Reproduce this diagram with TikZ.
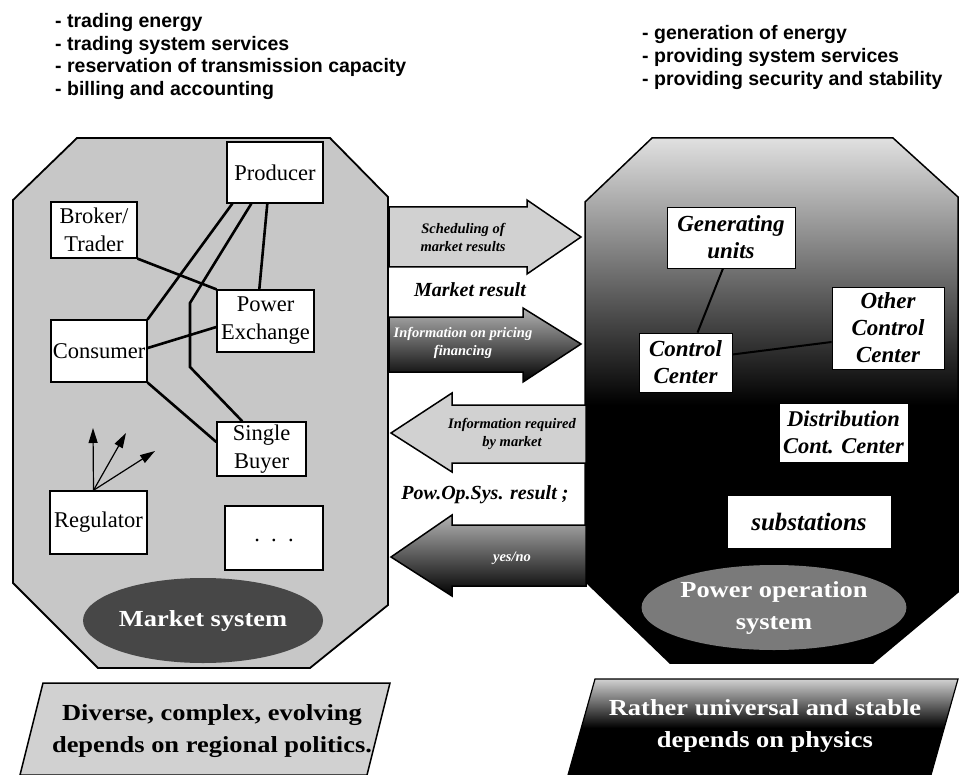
\documentclass[tikz,border=0pt]{standalone}
\usepackage{fontspec}
\setmainfont{Liberation Serif}
\newfontfamily\listfont{Liberation Sans}
\newfontfamily\widefont[FakeStretch=1.15]{Liberation Serif}
\usetikzlibrary{calc,shapes.geometric,arrows.meta}

\begin{document}
\begin{tikzpicture}[x=1pt,y=-1pt,
  listtext/.style={font=\listfont\bfseries\fontsize{19.5}{22}\selectfont,anchor=base west,inner sep=0pt},
  mbox/.style={draw=black,line width=1.4pt,fill=white,inner sep=0pt,align=center,
    font=\fontsize{22.5}{28}\selectfont},
  pbox/.style={draw=black,line width=0.8pt,fill=white,inner sep=0pt,align=center,
    font=\fontsize{23}{27}\selectfont\bfseries\itshape},
  link/.style={line width=2.6pt,line cap=round},
  reglink/.style={line width=1.2pt,-{Triangle[length=15pt,width=9pt]}},
  lbl/.style={font=\fontsize{20}{24}\selectfont\bfseries\itshape,inner sep=0pt},
  atext/.style={font=\fontsize{14.5}{18}\selectfont\bfseries\itshape,align=center,inner sep=0pt},
  bigtext/.style={font=\widefont\bfseries\fontsize{23}{32}\selectfont,align=center,inner sep=0pt},
]
\useasboundingbox (0,0) rectangle (960,775);

% ---------- task lists ----------
\node[listtext] (l1) at (55,28)   {- trading energy};
\node[listtext] (l2) at (55,50.5) {- trading system services};
\node[listtext] (l3) at (55,73)   {- reservation of transmission capacity};
\node[listtext] (l4) at (55,95.5) {- billing and accounting};

\node[listtext] (r1) at (642,40) {- generation of energy};
\node[listtext] (r2) at (642,63) {- providing system services};
\node[listtext] (r3) at (642,86) {- providing security and stability};

% ---------- market system (left octagon) ----------
\def\octL{(77,138) -- (330,138) -- (388,197) -- (388,605) -- (310,668) -- (98,668) -- (13,583) -- (13,200) -- cycle}
\fill[black!22] \octL;
\draw[line width=1.8pt] \octL;

% ---------- power operation system (right octagon) ----------
\def\octR{(652,138) -- (893,138) -- (958,197) -- (958,592) -- (873,663) -- (670,663) -- (585,581) -- (585,202) -- cycle}
\begin{scope}
  \clip \octR;
  \fill[black] (580,130) rectangle (960,670);
  \shade[top color=black!12,middle color=black!48,bottom color=black] (580,138) rectangle (960,405);
\end{scope}
\draw[line width=1.5pt] \octR;

% ---------- actors of the market ----------
\node[mbox,minimum width=96pt,minimum height=61pt] (prod) at (275,172.5) {Producer};
\node[mbox,minimum width=86pt,minimum height=56pt] (broker) at (94,230) {Broker/\\Trader};
\node[mbox,minimum width=97pt,minimum height=62pt] (pe) at (265.5,321) {Power\\Exchange};
\node[mbox,minimum width=96pt,minimum height=62pt] (cons) at (99,351) {Consumer};
\node[mbox,minimum width=89pt,minimum height=54pt] (sb) at (261.5,449) {Single\\Buyer};
\node[mbox,minimum width=97pt,minimum height=63pt] (reg) at (98.5,522.5) {Regulator};
\node[mbox,minimum width=98pt,minimum height=64pt] (more) at (274,538) {\raisebox{-7pt}{.\ \ .\ \ .}};

\node[ellipse,fill=black!72,minimum width=240pt,minimum height=85pt,inner sep=0pt,
      bigtext,text=white] (mkt) at (203,620.5) {Market system};

% relations between market actors
\draw[link] ($(prod.south west)+(6,0)$) -- (cons.north east);
\draw[link] ($(prod.south west)+(25,0)$) -- (190,303) -- (190,367) -- ($(sb.north west)+(26,0)$);
\draw[link] ($(prod.south west)+(41,0)$) -- ($(pe.north west)+(43,0)$);
\draw[link] (broker.south east) -- (pe.north west);
\draw[link] ($(cons.east)+(0,-3)$) -- ($(pe.west)+(0,6)$);
\draw[link] (cons.south east) -- ($(sb.west)+(0,-7)$);

% regulator influence
\coordinate (ra1) at (93,428);
\coordinate (ra2) at (126,433);
\coordinate (ra3) at (155,451);
\draw[reglink] ($(reg.north)+(-5,0)$) -- (ra1);
\draw[reglink] ($(reg.north)+(-5,0)$) -- (ra2);
\draw[reglink] ($(reg.north)+(-5,0)$) -- (ra3);

% ---------- operation side ----------
\node[pbox,minimum width=128pt,minimum height=61pt] (gen) at (731,237.5) {Generating\\units};
\node[pbox,minimum width=112pt,minimum height=82pt] (occ) at (888,328) {Other\\Control\\Center};
\node[pbox,minimum width=93pt,minimum height=59pt] (cc) at (685.5,362.5) {Control\\Center};
\node[pbox,minimum width=129pt,minimum height=59pt,font=\fontsize{22.5}{27}\selectfont\bfseries\itshape] (dcc) at (843.5,432.5) {Distribution\\Cont. Center};
\node[pbox,minimum width=164pt,minimum height=53pt,font=\fontsize{25}{27}\selectfont\bfseries\itshape] (subs) at (809,521.5) {substations};

\node[ellipse,fill=black!52,minimum width=232pt,minimum height=85pt,inner sep=0pt,
      bigtext,text=white] (pos) at (774,607.5) {Power operation\\system};

\draw[line width=2pt] ($(gen.south)+(-8,0)$) -- ($(cc.north)+(12,0)$);
\draw[line width=2pt] ($(cc.east)+(0,-8)$) -- ($(occ.west)+(0,14)$);

% ---------- exchanges between the two systems ----------
% schedules to operation
\draw[line width=1.5pt,fill=black!18]
  (389,207) -- (527,207) -- (527,200) -- (581,237) -- (527,274) -- (527,267) -- (389,267) -- cycle;
\node[atext] (a1t) at (463,237.5) {Scheduling of\\market results};

\node[lbl] (mres) at (470,290) {Market result};

% information to operation
\shade[top color=black!30,middle color=black!85,bottom color=black,draw=black,line width=1.5pt]
  (389,317) -- (523,317) -- (523,308) -- (581,344) -- (523,382) -- (523,372) -- (389,372) -- cycle;
\node[atext,text=white] (a3t) at (463,343) {Information on pricing\\financing};

% requests to market
\draw[line width=1.5pt,fill=black!18]
  (586,405) -- (452,405) -- (452,393) -- (391,433) -- (452,472) -- (452,463) -- (586,463) -- cycle;
\node[atext] (a4t) at (512,434) {Information required\\by market};

\node[lbl] (pres) at (485,495) {Pow.Op.Sys. result ;};

% answer to market
\shade[top color=black!30,middle color=black!85,bottom color=black,draw=black,line width=1.5pt]
  (586,525) -- (452,525) -- (452,515) -- (391,557) -- (452,596) -- (452,586) -- (586,586) -- cycle;
\node[atext,text=white] (a5t) at (512,558) {yes/no};

% ---------- characterisations ----------
\draw[line width=1.5pt,fill=black!18] (43,683) -- (390,683) -- (367,775) -- (20,775) -- cycle;
\node[bigtext] (mchar) at (212,731) {Diverse, complex, evolving\\depends on regional politics.};

\def\parR{(595,679) -- (958,679) -- (931,775) -- (568,775) -- cycle}
\begin{scope}
  \clip \parR;
  \fill[black] (560,675) rectangle (960,780);
  \shade[top color=black!18,bottom color=black] (560,679) rectangle (960,728);
\end{scope}
\draw[line width=1.2pt] \parR;
\node[bigtext,text=white] (pchar) at (765,726) {Rather universal and stable\\depends on physics};

\end{tikzpicture}
\end{document}
